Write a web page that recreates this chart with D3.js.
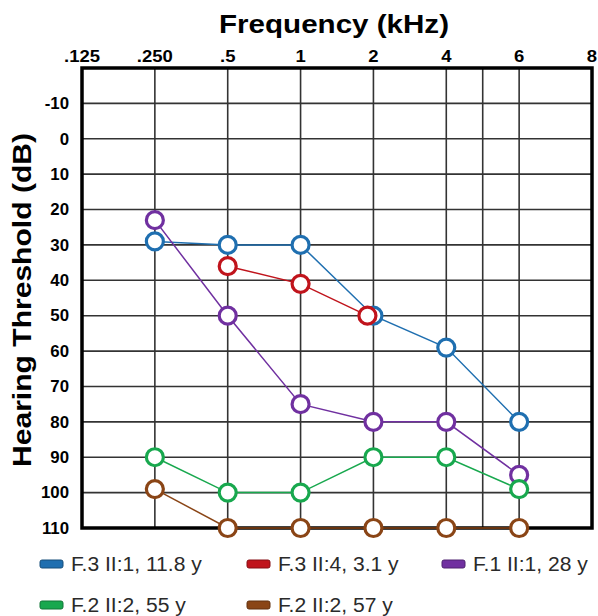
<!DOCTYPE html>
<html>
<head>
<meta charset="utf-8">
<script src="https://cdn.jsdelivr.net/npm/d3@7"></script>
<style>
  body { margin: 0; background: #fff; }
  text { font-family: "Liberation Sans", Arial, sans-serif; }
</style>
</head>
<body>
<svg id="chart"></svg>
<script>
const freqs = [".125", ".250", ".5", "1", "2", "4", "6", "8"];
const dbTicks = [-10, 0, 10, 20, 30, 40, 50, 60, 70, 80, 90, 100, 110];

const seriesNames = ["F.3 II:1, 11.8 y", "F.3 II:4, 3.1 y", "F.1 II:1, 28 y", "F.2 II:2, 55 y", "F.2 II:2, 57 y"];
const seriesColors = ["#1f6fb0", "#c0141c", "#7030a0", "#18a84e", "#8a4516"];

const blueVals = [[".250", 29], [".5", 30], ["1", 30], ["2", 50], ["4", 59], ["6", 80]];
const redVals = [[".5", 36], ["1", 41], ["2", 50]];
const purpleVals = [[".250", 23], [".5", 50], ["1", 75], ["2", 80], ["4", 80], ["6", 95]];
const greenVals = [[".250", 90], [".5", 100], ["1", 100], ["2", 90], ["4", 90], ["6", 99]];
const brownVals = [[".250", 99], [".5", 110], ["1", 110], ["2", 110], ["4", 110], ["6", 110]];

const width = 598, height = 616;
const plot = { left: 82, right: 592, top: 68, bottom: 528 };

const svg = d3.select("#chart").attr("width", width).attr("height", height);

const x = d3.scalePoint().domain(freqs).range([plot.left, plot.right]);
const y = d3.scaleLinear().domain([-20, 110]).range([plot.top, plot.bottom]);

// the source font runs wider than Arial, so stretch text a bit
function widen(sel, k) {
	sel.each(function() {
		const len = this.getComputedTextLength();
		d3.select(this)
			.attr("textLength", len * k)
			.attr("lengthAdjust", "spacingAndGlyphs");
	});
}

const grid = svg.append("g").attr("class", "grid");

grid.selectAll(".hline")
	.data(dbTicks)
	.enter()
	.append("line")
	.attr("x1", plot.left)
	.attr("x2", plot.right)
	.attr("y1", d => y(d))
	.attr("y2", d => y(d))
	.attr("stroke", "#333")
	.attr("stroke-width", 1.6);

// vertical grid lines, plus the extra one between 4 and 6
const vlines = freqs.slice(1, -1).map(f => x(f));
vlines.push((x("4") + x("6")) / 2);

grid.selectAll(".vline")
	.data(vlines)
	.enter()
	.append("line")
	.attr("x1", d => d)
	.attr("x2", d => d)
	.attr("y1", plot.top)
	.attr("y2", plot.bottom)
	.attr("stroke", "#333")
	.attr("stroke-width", 1.6);

svg.append("rect")
	.attr("x", plot.left)
	.attr("y", plot.top)
	.attr("width", plot.right - plot.left)
	.attr("height", plot.bottom - plot.top)
	.attr("fill", "none")
	.attr("stroke", "#000")
	.attr("stroke-width", 3.5);

svg.selectAll(".xlab")
	.data(freqs)
	.enter()
	.append("text")
	.attr("class", "xlab")
	.attr("x", d => x(d))
	.attr("y", 62)
	.attr("text-anchor", "middle")
	.attr("font-size", 16.5)
	.attr("font-weight", "bold")
	.text(d => d)
	.call(widen, 1.12);

svg.selectAll(".ylab")
	.data(dbTicks)
	.enter()
	.append("text")
	.attr("class", "ylab")
	.attr("x", 69)
	.attr("y", d => y(d))
	.attr("dy", "0.36em")
	.attr("text-anchor", "end")
	.attr("font-size", 16)
	.attr("font-weight", "bold")
	.text(d => d)
	.call(widen, 1.05);

svg.append("text")
	.attr("x", 334)
	.attr("y", 33)
	.attr("text-anchor", "middle")
	.attr("font-size", 25.5)
	.attr("font-weight", "bold")
	.attr("textLength", 230)
	.attr("lengthAdjust", "spacingAndGlyphs")
	.text("Frequency (kHz)");

svg.append("text")
	.attr("transform", "translate(31, 300) rotate(-90)")
	.attr("text-anchor", "middle")
	.attr("font-size", 25.5)
	.attr("font-weight", "bold")
	.attr("textLength", 334)
	.attr("lengthAdjust", "spacingAndGlyphs")
	.text("Hearing Threshold (dB)");

// series
const allSeries = [blueVals, redVals, purpleVals, greenVals, brownVals];
// the red 2 kHz point sits a little left in the original to stay visible
const nudge = (i, f) => (i === 1 && f === "2" ? -6 : 0);
const px = (d, i) => x(d[0]) + nudge(i, d[0]);

const seriesG = svg.selectAll(".series")
	.data(allSeries)
	.enter()
	.append("g")
	.attr("class", "series");

seriesG.append("path")
	.attr("d", (d, i) => d3.line().x(p => px(p, i)).y(p => y(p[1]))(d))
	.attr("fill", "none")
	.attr("stroke", (d, i) => seriesColors[i])
	.attr("stroke-width", 1.5);

seriesG.selectAll("circle")
	.data((d, i) => d.map(p => ({ p, i })))
	.enter()
	.append("circle")
	.attr("cx", d => px(d.p, d.i))
	.attr("cy", d => y(d.p[1]))
	.attr("r", 8.5)
	.attr("fill", "#fff")
	.attr("stroke", d => seriesColors[d.i])
	.attr("stroke-width", 3.2);

// legend
const legPos = [[40, 564], [247, 564], [442, 564], [40, 605], [247, 605]];

const leg = svg.selectAll(".legend")
	.data(seriesNames)
	.enter()
	.append("g")
	.attr("class", "legend")
	.attr("transform", (d, i) => `translate(${legPos[i][0]}, ${legPos[i][1]})`);

leg.append("rect")
	.attr("x", 0)
	.attr("y", -4)
	.attr("width", 23)
	.attr("height", 8)
	.attr("rx", 2)
	.attr("fill", (d, i) => seriesColors[i])
	.attr("stroke", (d, i) => d3.color(seriesColors[i]).darker(1))
	.attr("stroke-width", 1);

leg.append("text")
	.attr("x", 31)
	.attr("y", 0)
	.attr("dy", "0.35em")
	.attr("font-size", 19.5)
	.attr("fill", "#2a2a2a")
	.text(d => d)
	.call(widen, 1.08);
</script>
</body>
</html>
